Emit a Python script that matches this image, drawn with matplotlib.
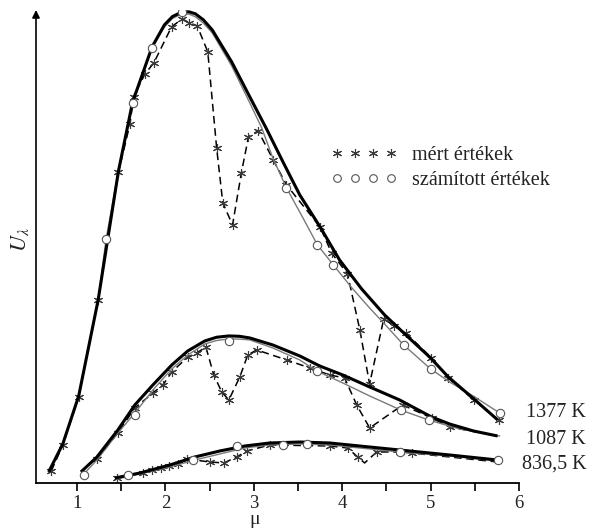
import matplotlib
matplotlib.use("Agg")
import matplotlib.pyplot as plt
from matplotlib.lines import Line2D
from matplotlib.ticker import MultipleLocator

plt.rcParams['font.family'] = ['Liberation Serif', 'DejaVu Serif']
plt.rcParams['mathtext.fontset'] = 'stix'

# ---------------- data (wavelength in micron, U_lambda arbitrary units) -------------
# 1377 K
t1377_x = [0.68, 0.84, 1.02, 1.24, 1.47, 1.63, 1.85, 1.99, 2.08, 2.19, 2.27, 2.34, 2.43, 2.53, 2.75, 2.955,
           3.15, 3.33, 3.52, 3.75, 3.97, 4.22, 4.48, 4.72, 5.00, 5.20, 5.49, 5.76]
t1377_y = [2.34, 8.30, 18.51, 38.94, 66.38, 81.06, 92.77, 97.45, 99.2, 100.21, 100.2, 99.79, 98.5, 96.38, 89.57, 82.13,
           75.11, 68.30, 61.28, 54.47, 47.45, 41.28, 35.74, 31.49, 26.60, 22.55, 17.87, 13.40]
g1377_x = [0.695, 0.84, 1.02, 1.24, 1.33, 1.47, 1.63, 1.85, 1.99, 2.08, 2.19, 2.27, 2.34, 2.43, 2.53, 2.75, 2.955,
           3.09, 3.215, 3.37, 3.55, 3.72, 3.90, 4.11, 4.31, 4.50, 4.695, 5.00, 5.215, 5.50, 5.78]
g1377_y = [2.77, 8.51, 18.51, 38.94, 51.91, 66.38, 80.85, 92.55, 97.02, 98.8, 99.79, 99.7, 99.15, 97.8, 95.74, 88.72, 80.85,
           75.53, 69.15, 62.77, 56.60, 50.64, 46.38, 41.49, 37.23, 33.40, 29.36, 24.26, 21.49, 18.30, 14.89]
m1377_x = [0.71, 0.84, 1.02, 1.24, 1.47, 1.60, 1.64, 1.77, 1.87, 2.07, 2.19, 2.27, 2.36, 2.48, 2.58,
           2.65, 2.76, 2.86, 2.94, 3.05, 3.22, 3.37, 3.75, 3.88, 4.06, 4.20, 4.31, 4.47, 4.59, 4.72,
           5.01, 5.20, 5.49, 5.77]
m1377_y = [2.55, 8.09, 18.30, 38.94, 66.17, 76.38, 82.13, 87.02, 89.36, 97.02, 98.72, 97.87, 97.23, 91.70,
           71.28, 59.57, 54.89, 65.96, 73.62, 74.89, 68.72, 63.40, 54.47, 48.94, 44.47, 32.55, 21.06,
           34.89, 33.40, 31.91, 26.60, 22.34, 17.66, 13.40]
c1377_x = [1.33, 1.63, 1.85, 2.19, 3.37, 3.72, 3.90, 4.70, 5.00, 5.78]
c1377_y = [51.91, 80.85, 92.55, 100.21, 62.77, 50.64, 46.38, 29.36, 24.26, 14.89]

# 1087 K
t1087_x = [1.045, 1.226, 1.463, 1.655, 1.859, 2.073, 2.254, 2.446, 2.58, 2.718, 2.84, 2.955, 3.215, 3.520,
           3.746, 4.006, 4.311, 4.650, 5.011, 5.215, 5.486, 5.757]
t1087_y = [2.34, 5.53, 11.28, 16.60, 20.85, 25.11, 28.09, 30.21, 31.0, 31.28, 31.2, 30.85, 29.36, 27.02,
           24.89, 22.98, 20.43, 17.66, 14.04, 12.55, 11.06, 10.00]
g1087_x = [1.068, 1.226, 1.463, 1.655, 1.859, 2.073, 2.254, 2.446, 2.58, 2.718, 2.84, 2.955, 3.215, 3.520,
           3.712, 4.006, 4.311, 4.661, 4.977, 5.328, 5.780]
g1087_y = [1.70, 4.89, 10.64, 14.89, 19.79, 24.26, 27.23, 29.57, 30.3, 30.64, 30.6, 30.43, 28.72, 26.17,
           23.83, 21.28, 18.51, 15.53, 13.40, 11.49, 10.00]
m1087_x = [1.226, 1.463, 1.655, 1.859, 1.972, 2.073, 2.254, 2.356, 2.458, 2.548, 2.638, 2.718,
           2.842, 2.932, 3.034, 3.373, 3.633, 3.859, 4.028, 4.164, 4.311, 4.684, 5.011, 5.215, 5.757]
m1087_y = [5.11, 10.64, 15.96, 19.15, 20.85, 23.62, 26.81, 27.66, 28.94, 22.98, 19.36, 17.66,
           22.55, 27.23, 28.30, 26.17, 24.47, 22.98, 22.34, 16.60, 11.70, 16.60, 13.83, 11.91, 10.00]
c1087_x = [1.079, 1.655, 2.718, 3.712, 4.661, 4.977]
c1087_y = [1.70, 14.47, 30.21, 23.83, 15.53, 13.40]

# 836,5 K
t836_x = [1.429, 1.712, 2.051, 2.333, 2.616, 2.898, 3.181, 3.520, 3.859, 4.198, 4.650, 5.215, 5.757]
t836_y = [1.06, 2.13, 3.83, 5.53, 6.81, 7.87, 8.51, 8.72, 8.51, 7.87, 7.02, 5.96, 4.89]
g836_x = [1.452, 1.712, 2.051, 2.333, 2.616, 2.898, 3.181, 3.520, 3.859, 4.198, 4.650, 5.215, 5.757]
g836_y = [0.85, 1.91, 3.40, 4.89, 6.17, 7.45, 8.09, 8.30, 8.09, 7.45, 6.60, 5.74, 4.68]
m836_x = [1.452, 1.746, 1.847, 1.949, 2.040, 2.141, 2.243, 2.503, 2.661, 2.808, 2.921, 3.181,
          3.859, 4.062, 4.175, 4.254, 4.390, 4.650, 4.785, 5.757]
m836_y = [1.06, 2.13, 2.77, 3.19, 3.62, 4.04, 5.11, 4.47, 4.26, 5.53, 6.81, 8.09,
          7.87, 7.45, 5.53, 4.26, 6.60, 6.60, 6.38, 4.47]
c836_x = [1.576, 2.311, 2.808, 3.328, 3.599, 4.650, 5.757]
c836_y = [1.70, 4.89, 7.87, 8.09, 8.30, 6.60, 4.89]

temp_labels = ["1377 K", "1087 K", "836,5 K"]
temp_label_y = [14.9, 9.15, 4.04]
xticks = [1, 2, 3, 4, 5, 6]
legend_labels = ["mért értékek", "számított értékek"]

# ---------------- figure -------------
fig = plt.figure(figsize=(5.9, 5.3), dpi=100)
ax = fig.add_axes([36 / 590, 47 / 530, (519 - 36) / 590, (483 - 10) / 530])
ax.set_xlim(0.537, 6.0)
ax.set_ylim(0, 100.6)

star = (6, 2, 0)
dash_kw = dict(color='black', lw=1.1, ls=(0, (5, 3)), marker=star, ms=6.5, mew=0.8,
               mec='#3a3a3a', dash_joinstyle='round')
gray_kw = dict(color='#7a7a7a', lw=1.0, solid_joinstyle='round')
thick_kw = dict(color='black', lw=2.2, solid_capstyle='butt', solid_joinstyle='round')
circ_kw = dict(ls='none', marker='o', ms=6, mfc='white', mec='#555555', mew=0.8)

ax.plot(m1377_x, m1377_y, **dash_kw)
ax.plot(m1087_x, m1087_y, markevery=list(range(len(m1087_x) - 1)), **dash_kw)
ax.plot(m836_x, m836_y, markevery=[i for i in range(len(m836_x) - 1) if i != 15], **dash_kw)

for gx, gy in [(g1377_x, g1377_y), (g1087_x, g1087_y), (g836_x, g836_y)]:
    ax.plot(gx, gy, **gray_kw)
for tx, ty in [(t1377_x, t1377_y), (t1087_x, t1087_y), (t836_x, t836_y)]:
    ax.plot(tx, ty, **thick_kw)
for cx, cy in [(c1377_x, c1377_y), (c1087_x, c1087_y), (c836_x, c836_y)]:
    ax.plot(cx, cy, zorder=4, **circ_kw)

# temperature labels
for lab, ly in zip(temp_labels, temp_label_y):
    ax.text(6.76, ly, lab, ha='right', va='center', fontsize=14.5, color='#222222',
            clip_on=False)

# axes styling
for s in ['top', 'right', 'left']:
    ax.spines[s].set_visible(False)
ax.spines['bottom'].set_linewidth(1.3)
ax.set_yticks([])
ax.set_xticks(xticks)
ax.xaxis.set_minor_locator(MultipleLocator(0.5))
ax.tick_params(axis='x', which='both', direction='out', length=5.5, width=1.2, labelsize=13.5,
               pad=3, labelcolor='#222222')
ax.annotate('', xy=(0, 1), xytext=(0, 0), xycoords='axes fraction',
            arrowprops=dict(arrowstyle='-|>', lw=1.2, color='black', mutation_scale=11,
                            shrinkA=0, shrinkB=0))

fig.text(255 / 590, 1 - 519 / 530, 'μ', ha='center', va='center', fontsize=14, color='#222222')
fig.text(20 / 590, 1 - 240 / 530, r'$U_\lambda$', ha='center', va='center', rotation=90,
         fontsize=16, color='#222222')

handles = [Line2D([], [], ls='none', marker=star, ms=6.5, mew=0.8, color='#3a3a3a'),
           Line2D([], [], ls='none', marker='o', ms=5.5, mfc='white', mec='#555555', mew=0.8)]
fig.legend(handles, legend_labels, loc='upper left', bbox_to_anchor=(331 / 590, 1 - 146 / 530),
           frameon=False, numpoints=4, handlelength=3.3, handletextpad=0.7, labelspacing=0.3,
           borderpad=0, borderaxespad=0, prop={'size': 14.5}, labelcolor='#222222')

fig.savefig('out.png', dpi=100)
